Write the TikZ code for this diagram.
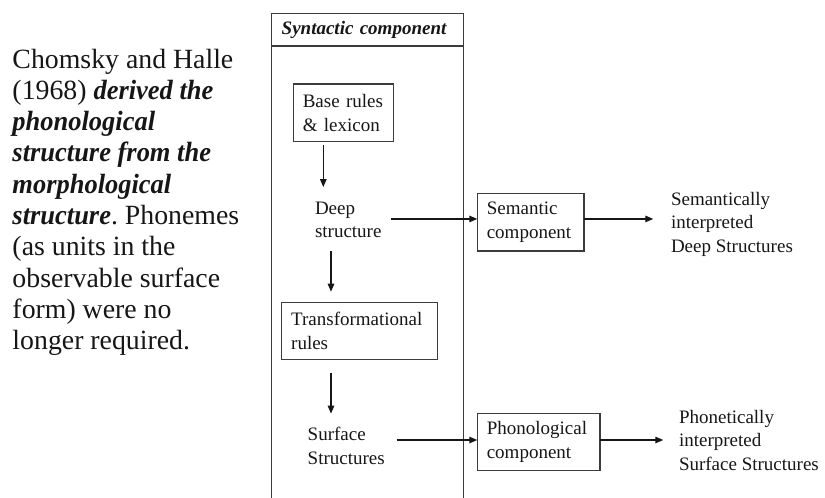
\documentclass[tikz,border=0pt]{standalone}
\usepackage{fontspec}
\usepackage{graphicx}
\setmainfont{Liberation Serif}
\usetikzlibrary{arrows.meta,calc}
\definecolor{ink}{HTML}{161616}
\definecolor{rulegray}{HTML}{3C3C3C}
% condensed bold italic for the emphasised phrases
\newcommand{\emphbi}[1]{\scalebox{0.952}[1]{\textbf{\textit{#1}}}}
\begin{document}
\frenchspacing
\begin{tikzpicture}[x=1pt,y=-1pt,
  every node/.style={text=ink, inner sep=0pt, outer sep=0pt},
  lbl/.style={font=\fontsize{19}{23.6}\selectfont},
  framebox/.style={draw=rulegray, line width=1.2pt, lbl, align=left, inner xsep=9.5pt},
  note/.style={lbl, anchor=base west},
  arr/.style={draw=ink, line width=1.3pt, -{Triangle[length=8pt,width=6.5pt]}},
]
\useasboundingbox (0,0) rectangle (825,498);

% explanatory paragraph
\node[anchor=base west, font=\fontsize{27.8}{31.3}\selectfont] (intro) at (12.5,68)
  {\vtop{\hbox{Chomsky and Halle}
         \hbox{(1968) \emphbi{derived the}}
         \hbox{\emphbi{phonological}}
         \hbox{\emphbi{structure from the}}
         \hbox{\emphbi{morphological}}
         \hbox{\emphbi{structure}. Phonemes}
         \hbox{(as units in the}
         \hbox{observable surface}
         \hbox{form) were no}
         \hbox{longer required.}}};

% syntactic component frame
\node[draw=rulegray, line width=1.2pt, anchor=north west, minimum height=32.7pt,
      text width=171.6pt, inner xsep=10pt, align=left,
      font=\fontsize{19}{23}\selectfont\bfseries\itshape] (head) at (271.7,13.3)
  {\hbox{Syntactic component}};
\coordinate (floor) at (0,498);
\draw[draw=rulegray, line width=1.2pt] (head.south west) -- (head.south west |- floor);
\draw[draw=rulegray, line width=1.2pt] (head.south east) -- (head.south east |- floor);

% boxes
\node[framebox, minimum height=57.7pt, text width=81pt] (base) at (343.3,112.85)
  {\vtop{\hbox{Base rules}\hbox{\& lexicon}}};
\node[framebox, minimum height=57pt, text width=136.6pt] (trans) at (359.5,330.8)
  {\vtop{\hbox{Transformational}\hbox{rules}}};
\node[framebox, minimum height=57.7pt, text width=87.7pt] (sem) at (530.65,222.15)
  {\vtop{\hbox{Semantic}\hbox{component}}};
\node[framebox, minimum height=57.4pt, text width=103.7pt] (phon) at (538.65,442)
  {\vtop{\hbox{Phonological}\hbox{component}}};

% free labels
\node[note] (deep) at (315,214) {\vtop{\hbox{Deep}\hbox{structure}}};
\node[note] (surf) at (307.7,440.5) {\vtop{\hbox{Surface}\hbox{Structures}}};
\node[note] (semout) at (671,205)
  {\vtop{\hbox{Semantically}\hbox{interpreted}\hbox{Deep Structures}}};
\node[note] (phonout) at (679,423.3)
  {\vtop{\hbox{Phonetically}\hbox{interpreted}\hbox{Surface Structures}}};

% vertical derivation arrows
\coordinate (a1) at ($(base.south west)+(30,3.3)$);
\coordinate (a1e) at ($(deep.north)+(0,-14.5)$);
\draw[arr] (a1) -- (a1 |- a1e);

\coordinate (a2) at ($(deep.south west)+(16,13)$);
\coordinate (a2e) at ($(trans.north)+(0,-10.6)$);
\draw[arr] (a2) -- (a2 |- a2e);

\coordinate (a3) at ($(trans.south west)+(49.3,14)$);
\coordinate (a3e) at ($(surf.north)+(0,-13.5)$);
\draw[arr] (a3) -- (a3 |- a3e);

% interpretation arrows
\coordinate (h1e) at ($(sem.west)+(0,-3.2)$);
\coordinate (h1) at ($(deep.east |- h1e)+(10,0)$);
\draw[arr] (h1) -- (h1e);
\draw[arr] (h1e -| sem.east) -- ($(h1e -| semout.west)+(-17.7,0)$);

\coordinate (h3e) at ($(phon.west)+(0,-2)$);
\coordinate (h3) at ($(surf.east |- h3e)+(12,0)$);
\draw[arr] (h3) -- (h3e);
\draw[arr] (h3e -| phon.east) -- ($(h3e -| phonout.west)+(-15.7,0)$);
\end{tikzpicture}
\end{document}
